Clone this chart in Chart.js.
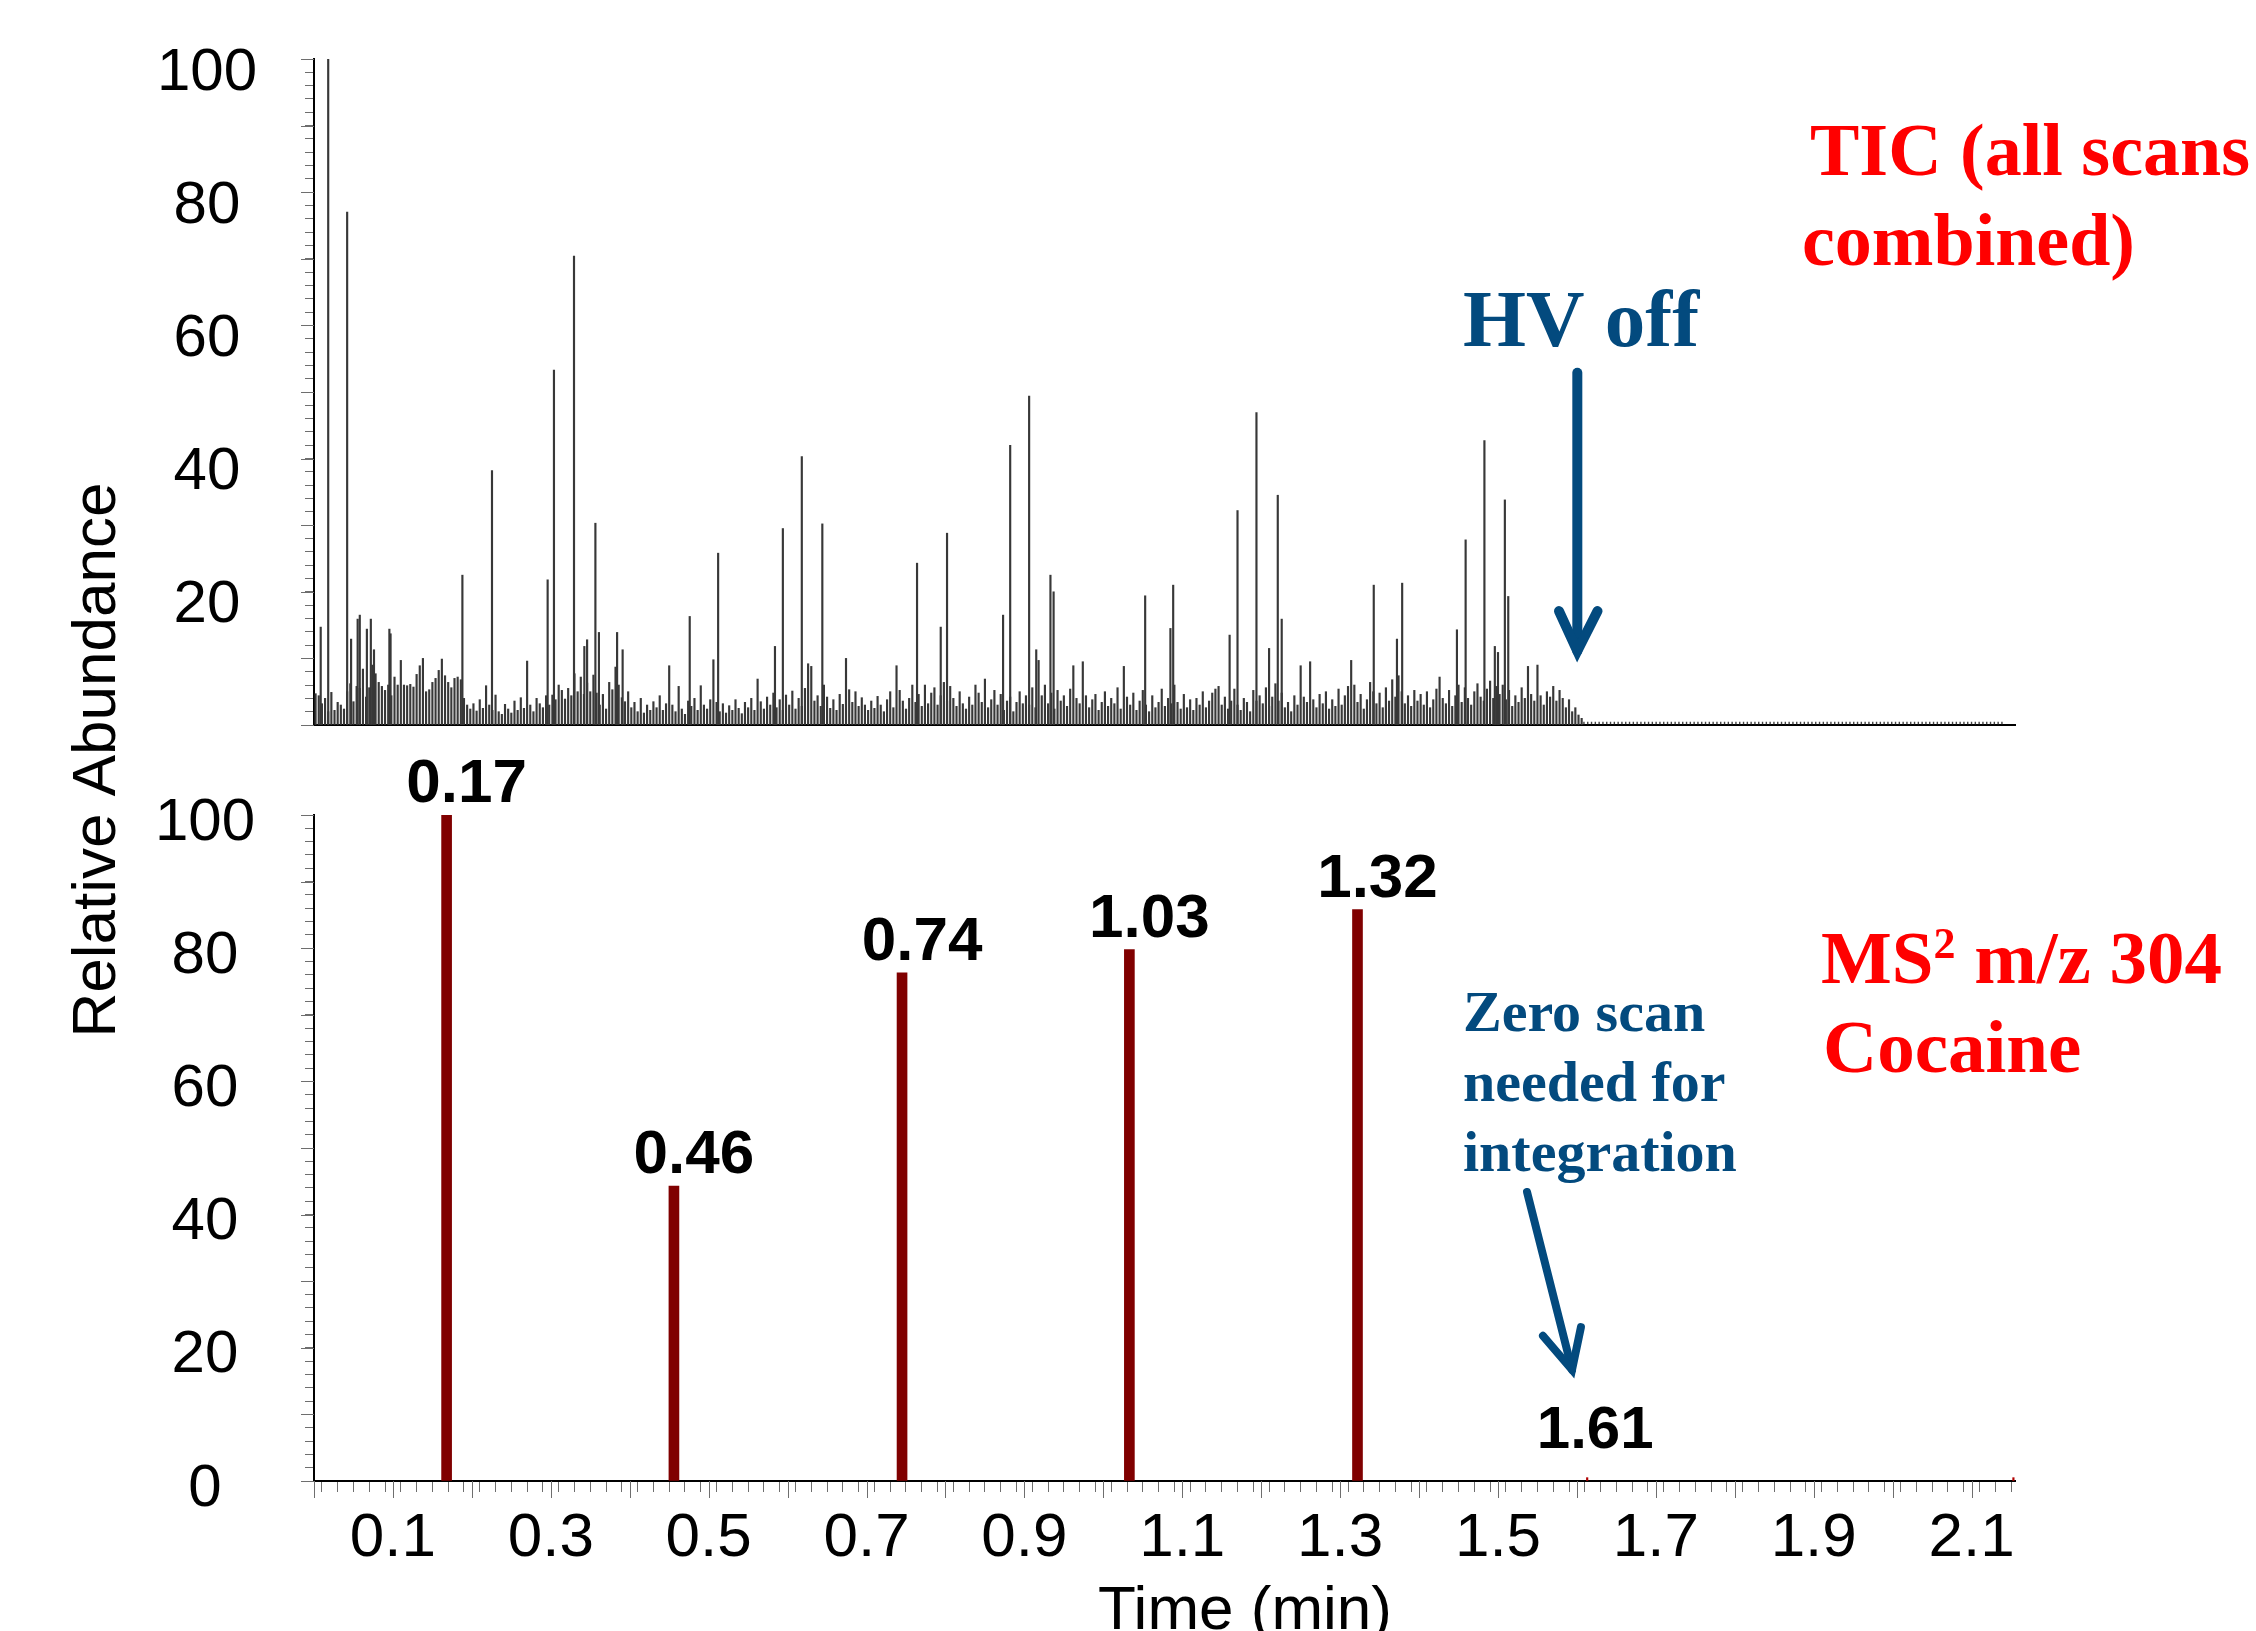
<!DOCTYPE html>
<html>
<head>
<meta charset="utf-8">
<script src="https://cdn.jsdelivr.net/npm/chart.js@4.4.1/dist/chart.umd.min.js"></script>
<style>
html,body{margin:0;padding:0;background:#ffffff;}
#wrap{position:relative;width:2256px;height:1631px;overflow:hidden;background:#fff;}
#wrap canvas{position:absolute;left:0;top:0;}
</style>
</head>
<body>
<div id="wrap">
  <canvas id="msChart" width="2256" height="1631"></canvas>
  <canvas id="ticChart" width="2256" height="780"></canvas>
</div>
<script>
// ================= DATA =================
// TIC (all scans combined): background scans on the instrument scan grid
const ticScanStart = 0.002;   // min
const ticScanStep  = 0.004;   // min
const ticNoise = [
  4.7,4.4,3.2,4.0,2.0,4.9,2.2,3.4,3.0,2.4,5.0,6.2,3.5,5.8,5.5,8.4,4.2,5.6,9.0,7.7,6.4,5.8,5.2,6.0,4.4,
  7.2,6.0,9.7,6.0,5.9,6.1,5.7,7.6,8.9,10.0,5.0,5.3,6.4,7.0,8.2,9.9,7.4,6.4,5.6,7.0,7.2,6.8,4.0,3.0,2.4,
  3.2,2.1,3.8,2.5,5.9,3.0,2.2,4.5,2.0,1.6,3.1,2.4,1.8,3.6,2.2,4.1,2.5,9.6,3.0,2.0,4.0,3.2,2.6,4.4,3.0,
  4.5,3.8,6.0,5.2,3.9,5.5,4.4,7.7,5.0,7.2,4.6,6.3,5.0,7.5,4.8,3.0,4.6,2.4,6.4,5.3,8.7,6.0,4.1,3.5,5.0,
  2.6,3.4,2.0,4.0,1.8,3.0,2.2,3.5,2.6,4.4,2.2,3.2,8.9,3.0,2.0,5.8,2.4,1.6,3.6,2.8,4.0,2.2,5.9,3.0,2.4,
  3.8,9.8,3.4,2.0,3.2,1.8,2.9,2.2,3.8,2.5,1.7,3.4,2.6,4.0,2.2,6.9,3.5,2.4,4.2,3.0,4.8,2.6,3.8,2.2,4.5,
  3.0,5.1,2.4,4.0,2.8,5.5,9.2,8.8,3.6,4.4,2.8,6.0,4.2,2.5,3.8,2.2,4.6,3.1,10.0,5.3,3.4,5.0,2.8,4.1,3.0,
  2.2,3.6,2.5,4.3,3.0,2.0,3.8,5.0,2.6,8.9,5.2,3.6,2.4,4.0,6.0,3.4,4.6,2.8,6.0,3.2,4.8,5.6,3.0,4.4,6.4,
  3.6,5.8,4.0,2.8,5.0,3.2,2.4,4.2,3.0,6.0,4.8,3.4,6.9,2.6,3.8,5.2,3.0,4.6,2.2,3.6,4.2,2.0,3.4,5.0,3.2,
  4.4,3.0,5.6,2.6,9.7,4.4,6.0,3.2,4.8,2.4,5.2,3.6,4.4,2.8,5.4,8.9,4.0,3.2,9.5,4.4,2.6,3.8,4.6,2.2,3.4,
  5.0,2.8,4.0,3.2,5.6,2.4,8.8,4.2,3.0,4.8,2.2,3.6,5.2,3.0,2.0,4.4,2.6,3.4,5.4,2.8,4.0,3.2,6.0,3.4,2.4,
  4.6,2.6,3.8,2.2,4.0,3.0,5.0,2.6,3.6,4.8,5.4,5.8,3.0,4.2,2.4,3.6,5.4,3.0,2.2,4.0,3.4,2.0,5.2,3.6,4.4,
  3.2,5.6,2.8,4.2,6.2,3.6,4.8,2.6,3.4,2.0,4.4,3.0,8.9,4.2,3.4,9.5,3.8,2.6,4.6,3.2,5.0,2.4,3.8,2.8,5.4,
  3.0,4.4,5.8,9.7,6.0,3.4,4.6,2.4,3.8,6.4,5.0,3.2,4.8,2.6,5.6,3.6,6.8,4.2,7.4,5.0,3.2,4.4,2.8,5.2,3.6,
  4.6,3.0,5.0,2.6,3.8,5.4,7.2,4.0,3.2,5.2,2.8,4.4,6.0,3.4,5.6,4.0,3.0,5.0,6.2,4.2,3.6,5.4,6.6,4.0,5.8,
  4.6,6.0,3.8,5.2,2.8,4.4,3.4,5.6,4.0,8.8,4.6,3.6,9.0,4.4,3.0,5.0,4.2,5.8,3.6,5.2,4.0,2.6,3.8,2.0,2.6,
  1.5,1.0
];
// TIC: individual tall scans
const ticPeakTimes = [0.0085,0.018,0.042,0.047,0.0553,0.058,0.067,0.072,0.076,0.0955,0.097,0.188,0.2255,0.296,0.304,0.3294,0.3425,0.346,0.3565,0.361,0.384,0.391,0.476,0.512,0.584,0.594,0.618,0.644,0.764,0.794,0.802,0.873,0.882,0.906,0.915,0.933,0.937,1.053,1.085,1.0885,1.160,1.170,1.194,1.210,1.221,1.226,1.3426,1.372,1.3786,1.448,1.459,1.4828,1.496,1.500,1.5087,1.513];
const ticPeakValues = [14.7,100,77,12.9,15.9,16.5,14.4,15.9,11.3,14.4,13.7,22.5,38.2,21.8,53.3,70.4,11.8,12.8,30.3,13.9,13.9,11.3,16.3,25.8,11.8,29.5,40.3,30.2,24.3,14.7,28.8,16.5,42.0,49.4,11.3,22.5,20.0,19.4,14.5,21.0,13.5,32.2,46.9,11.5,34.5,15.9,21.0,12.9,21.3,14.3,27.8,42.7,11.8,10.9,33.8,19.3];
// TIC after HV off: flat residual baseline
const ticOffTimes  = [1.608, 2.142];
const ticOffValues = [0.3, 0.3];

// MS2 m/z 304 (cocaine) scans
const msPeakTimes  = [0.168, 0.456, 0.745, 1.033, 1.322];
const msPeakValues = [100, 44.3, 76.3, 79.8, 85.8];
const msPeakLabels = ['0.17', '0.46', '0.74', '1.03', '1.32'];
const msZeroTimes  = [1.613, 2.153];
const msZeroValues = [0.5, 0.5];
const msZeroLabels = ['1.61', ''];

// axes
const timeMin = 0, timeMax = 2.155;
const xTickLabels = ['0.1','0.3','0.5','0.7','0.9','1.1','1.3','1.5','1.7','1.9','2.1'];
const yTickLabelsTic = ['20','40','60','80','100'];
const yTickLabelsMs  = ['0','20','40','60','80','100'];

// annotation arrows (in time / abundance units)
const hvOffArrow   = {from:[1.6005,52.9], to:[1.6005,11.1], armA:[1.5773,17.1], armB:[1.6261,17.1]};
const zeroScanArrow = {from:[1.5368,43.4], to:[1.5938,16.7], armA:[1.557,21.8], armB:[1.6051,23.1]};

// ================= STYLE =================
const SANS   = "'Liberation Sans', Arial, Helvetica, sans-serif";
const NARROW = "'Liberation Sans Narrow', 'Arial Narrow', 'Liberation Sans', Arial, sans-serif";
const SERIF  = "'Liberation Serif', 'Times New Roman', 'DejaVu Serif', serif";
const BLUE = '#034a7e', RED = '#ff0000', MAROON = '#800000', TICK = '#6e6e6e', TICGREY = '#383838';

function isMult(v, step) { const q = v / step; return Math.abs(q - Math.round(q)) < 1e-6; }

function yAxis(labels, labelOffset, pad) {
  return {
    type: 'linear', min: 0, max: 100,
    afterFit: s => { s.width = 314; s.paddingTop = 0; s.paddingBottom = 0; },
    grid: { display: true, drawOnChartArea: false, drawTicks: true, tickLength: 9, tickColor: TICK, tickWidth: 1 },
    border: { display: true, color: '#000', width: 2 },
    ticks: {
      stepSize: 2, autoSkip: false, crossAlign: 'center', padding: pad, labelOffset: labelOffset,
      color: '#000', font: { family: SANS, size: 60 },
      callback: v => { const s = String(Math.round(v)); return (isMult(v, 1) && labels.includes(s)) ? s : ''; }
    }
  };
}

const majorTicks = {
  id: 'majorTicks',
  afterDraw(chart, args, opts) {
    const ctx = chart.ctx;
    ctx.save();
    ctx.strokeStyle = TICK; ctx.lineWidth = 1;
    const ys = chart.scales.y;
    ys.ticks.forEach(t => {
      if (isMult(t.value, 10)) {
        const py = Math.round(ys.getPixelForValue(t.value)) + 0.5;
        ctx.beginPath(); ctx.moveTo(ys.right - opts.yLen, py); ctx.lineTo(ys.right, py); ctx.stroke();
      }
    });
    if (opts.xLen) {
      const xs = chart.scales.x;
      xs.ticks.forEach(t => {
        if (isMult(t.value, 0.1)) {
          const px = Math.round(xs.getPixelForValue(t.value)) + 0.5;
          ctx.beginPath(); ctx.moveTo(px, xs.top); ctx.lineTo(px, xs.top + opts.xLen); ctx.stroke();
        }
      });
    }
    ctx.restore();
  }
};

function text(ctx, s, x, y, font, color, align) {
  ctx.font = font; ctx.fillStyle = color; ctx.textAlign = align || 'left'; ctx.textBaseline = 'alphabetic';
  ctx.fillText(s, x, y);
  return ctx.measureText(s).width;
}
function arrow(chart, a, color, width) {
  const xs = chart.scales.x, ys = chart.scales.y, ctx = chart.ctx;
  const P = p => [xs.getPixelForValue(p[0]), ys.getPixelForValue(p[1])];
  const f = P(a.from), t = P(a.to), l = P(a.armA), r = P(a.armB);
  ctx.save();
  ctx.strokeStyle = color; ctx.lineWidth = width; ctx.lineCap = 'round'; ctx.lineJoin = 'miter';
  ctx.beginPath(); ctx.moveTo(f[0], f[1]); ctx.lineTo(t[0], t[1]); ctx.stroke();
  ctx.beginPath(); ctx.moveTo(l[0], l[1]); ctx.lineTo(t[0], t[1]); ctx.lineTo(r[0], r[1]); ctx.stroke();
  ctx.restore();
}

// ================= TIC CHART (top) =================
const ticNoisePts = ticNoise.map((v, i) => ({ x: ticScanStart + i * ticScanStep, y: v }));
const ticPeakPts  = ticPeakTimes.map((t, i) => ({ x: t, y: ticPeakValues[i] }));
const ticOffPts   = ticOffTimes.map((t, i) => ({ x: t, y: ticOffValues[i] }));

const ticAnnotations = {
  id: 'ticAnnotations',
  afterDraw(chart) {
    const ctx = chart.ctx;
    ctx.save();
    text(ctx, 'TIC (all scans', 1810, 175, 'bold 74px ' + SERIF, RED);
    text(ctx, 'combined)', 1802, 265, 'bold 74px ' + SERIF, RED);
    text(ctx, 'HV off', 1463, 346, 'bold 81px ' + SERIF, BLUE);
    ctx.restore();
    arrow(chart, hvOffArrow, BLUE, 10);
  }
};

new Chart(document.getElementById('ticChart'), {
  type: 'bar',
  data: {
    datasets: [
      { label: 'TIC scans', data: ticNoisePts, backgroundColor: TICGREY, barThickness: 1.5, grouped: false, borderWidth: 0 },
      { label: 'TIC tall scans', data: ticPeakPts, backgroundColor: TICGREY, barThickness: 1.5, grouped: false, borderWidth: 0 },
      { type: 'line', label: 'TIC after HV off', data: ticOffPts, borderColor: '#444', borderWidth: 2.4,
        borderDash: [1.4, 2.4], pointRadius: 0, fill: false }
    ]
  },
  options: {
    responsive: false, animation: false, devicePixelRatio: 1, events: [],
    layout: { padding: { left: 0, right: 241, top: 59, bottom: 0 } },
    plugins: { legend: { display: false }, tooltip: { enabled: false }, majorTicks: { yLen: 13, xLen: 0 } },
    scales: {
      x: {
        type: 'linear', min: timeMin, max: timeMax, offset: false,
        afterFit: s => { s.height = 55; },
        grid: { display: true, drawOnChartArea: false, drawTicks: false },
        border: { display: true, color: '#000', width: 2 },
        ticks: { display: false }
      },
      y: yAxis(yTickLabelsTic, 14, 48)
    }
  },
  plugins: [majorTicks, ticAnnotations]
});

// ================= MS2 CHART (bottom) =================
const msPeakPts = msPeakTimes.map((t, i) => ({ x: t, y: msPeakValues[i] }));
const msZeroPts = msZeroTimes.map((t, i) => ({ x: t, y: msZeroValues[i] }));

const msAnnotations = {
  id: 'msAnnotations',
  afterDraw(chart) {
    const ctx = chart.ctx;
    ctx.save();
    // peak labels
    const m0 = chart.getDatasetMeta(0), m1 = chart.getDatasetMeta(1);
    m0.data.forEach((el, i) => text(ctx, msPeakLabels[i], el.x + 20, el.y - 13, 'bold 62px ' + SANS, '#000', 'center'));
    m1.data.forEach((el, i) => { if (msZeroLabels[i]) text(ctx, msZeroLabels[i], el.x + 8, chart.scales.y.getPixelForValue(0) - 33, 'bold 60px ' + SANS, '#000', 'center'); });
    // axis titles
    text(ctx, 'Time (min)', 1245, 1629, '62px ' + SANS, '#000', 'center');
    ctx.save();
    ctx.translate(115, 760); ctx.rotate(-Math.PI / 2);
    text(ctx, 'Relative Abundance', 0, 0, '62px ' + SANS, '#000', 'center');
    ctx.restore();
    // trace label
    let x = 1821;
    x += text(ctx, 'MS', x, 983, 'bold 75px ' + SERIF, RED);
    x += text(ctx, '2', x, 958, 'bold 44px ' + SERIF, RED);
    text(ctx, ' m/z 304', x, 983, 'bold 75px ' + SERIF, RED);
    text(ctx, 'Cocaine', 1823, 1072, 'bold 75px ' + SERIF, RED);
    // note
    text(ctx, 'Zero scan', 1463, 1031, 'bold 58px ' + SERIF, BLUE);
    text(ctx, 'needed for', 1463, 1101, 'bold 58px ' + SERIF, BLUE);
    text(ctx, 'integration', 1463, 1171, 'bold 58px ' + SERIF, BLUE);
    ctx.restore();
    arrow(chart, zeroScanArrow, BLUE, 8);
  }
};

new Chart(document.getElementById('msChart'), {
  type: 'bar',
  data: {
    datasets: [
      { label: 'MS2 m/z 304', data: msPeakPts, backgroundColor: MAROON, barThickness: 10, grouped: false, borderWidth: 0 },
      { label: 'Zero scans', data: msZeroPts, backgroundColor: '#b00000', barThickness: 1.5, grouped: false, borderWidth: 0 }
    ]
  },
  options: {
    responsive: false, animation: false, devicePixelRatio: 1, events: [],
    layout: { padding: { left: 0, right: 241, top: 815, bottom: 0 } },
    plugins: { legend: { display: false }, tooltip: { enabled: false }, majorTicks: { yLen: 13, xLen: 17 } },
    scales: {
      x: {
        type: 'linear', min: timeMin, max: timeMax, offset: false,
        afterFit: s => { s.height = 150; },
        grid: { display: true, drawOnChartArea: false, drawTicks: true, tickLength: 11, tickColor: TICK, tickWidth: 1 },
        border: { display: true, color: '#000', width: 2 },
        ticks: {
          stepSize: 0.02, autoSkip: false, includeBounds: false, maxRotation: 0, minRotation: 0, padding: 10,
          color: '#000', font: { family: NARROW, size: 62 },
          callback: v => { const s = (Math.round(v * 10) / 10).toFixed(1); return (isMult(v, 0.1) && xTickLabels.includes(s)) ? s : ''; }
        }
      },
      y: yAxis(yTickLabelsMs, 8, 50)
    }
  },
  plugins: [majorTicks, msAnnotations]
});
</script>
</body>
</html>
